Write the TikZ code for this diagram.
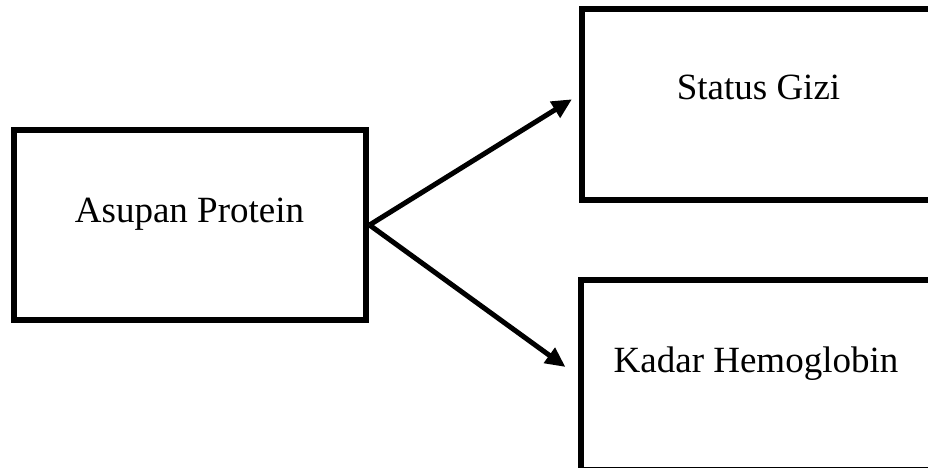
\documentclass[tikz,border=0pt]{standalone}
\usepackage{fontspec}
\setmainfont{Liberation Serif}
\usetikzlibrary{arrows.meta,calc}
\begin{document}
\begin{tikzpicture}[x=1pt,y=-1pt,
  box/.style={draw=black,line width=6pt,rectangle,inner sep=0pt,outer sep=0pt},
  lbl/.style={anchor=base,inner sep=0pt,font=\fontsize{37}{44}\selectfont},
  conn/.style={line width=5pt,-{Triangle[length=20pt,width=18pt]}}]
\useasboundingbox (0,0) rectangle (928,468);
\clip (0,0) rectangle (928,468);
\node[box,minimum width=352pt,minimum height=190pt] (asupan) at (189.5,225) {};
\node[box,minimum width=360pt,minimum height=190.5pt] (gizi) at (762,104.25) {};
\node[box,minimum width=360pt,minimum height=190pt] (hb) at (760.5,375) {};
\node[lbl] (tasupan) at (189.5,222) {Asupan Protein};
\node[lbl] (tgizi) at (758.5,100) {Status Gizi};
\node[lbl] (thb) at (756,372) {Kadar Hemoglobin};
\coordinate (fork) at ($(asupan.east)+(4,0)$);
\coordinate (tipgizi) at ($(gizi.west)+(-10,-5)$);
\coordinate (tiphb) at ($(hb.west)+(-15,-8)$);
\draw[conn] (fork) -- (tipgizi);
\draw[conn] (fork) -- (tiphb);
\end{tikzpicture}
\end{document}
